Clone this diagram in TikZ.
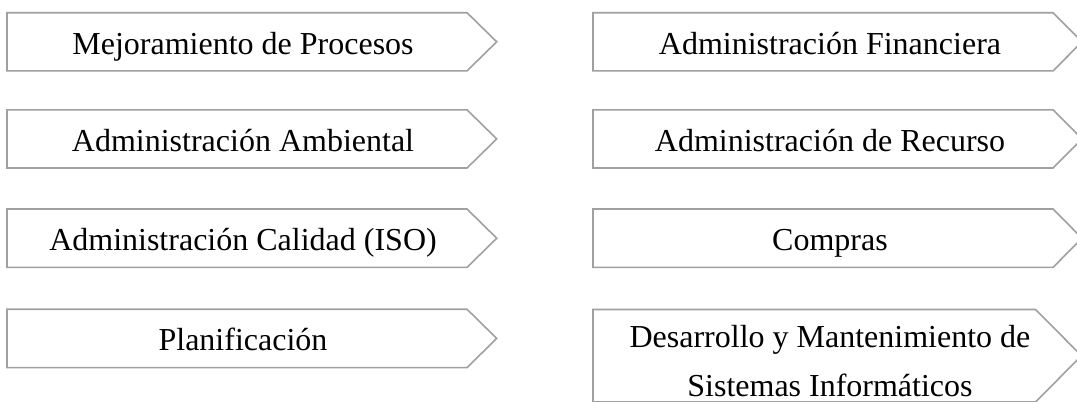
\documentclass[tikz,border=0pt]{standalone}
\usepackage{fontspec}
\setmainfont{Liberation Serif}
\definecolor{chevgray}{HTML}{A0A0A0}
\tikzset{
  chev/.style={draw=chevgray, line width=1.2pt, line join=miter},
  lbl/.style={anchor=base, inner sep=0pt, font=\fontsize{24}{36.75}\selectfont, text=black},
}
\begin{document}
\begin{tikzpicture}[x=0.75pt,y=-0.75pt]
\useasboundingbox (0,0) rectangle (1077,401);
\clip (0,0) rectangle (1077,401);
% left column shapes
\draw[chev] (7,12.7) -- (467,12.7) -- (496.7,41.8) -- (467,70.9) -- (7,70.9) -- cycle;
\draw[chev] (7,109.8) -- (467,109.8) -- (496.7,138.9) -- (467,168) -- (7,168) -- cycle;
\draw[chev] (7,209) -- (467,209) -- (496.7,238.2) -- (467,267.4) -- (7,267.4) -- cycle;
\draw[chev] (7,309.2) -- (467,309.2) -- (496.7,338.4) -- (467,367.6) -- (7,367.6) -- cycle;
% right column shapes
\draw[chev] (593,12.7) -- (1053,12.7) -- (1082,41.8) -- (1053,70.9) -- (593,70.9) -- cycle;
\draw[chev] (593,109.8) -- (1053,109.8) -- (1082,138.9) -- (1053,168) -- (593,168) -- cycle;
\draw[chev] (593,209) -- (1053,209) -- (1082,238.2) -- (1053,267.4) -- (593,267.4) -- cycle;
\draw[chev] (593,309.5) -- (1035.5,309.5) -- (1081.5,355.7) -- (1035.5,402) -- (593,402) -- cycle;
% labels
\node[lbl] (l1) at (243,54.3) {Mejoramiento de Procesos};
\node[lbl] (l2) at (243,151.4) {Administración Ambiental};
\node[lbl] (l3) at (243,250.6) {Administración Calidad (ISO)};
\node[lbl] (l4) at (243,350.8) {Planificación};
\node[lbl] (r1) at (830,54.3) {Administración Financiera};
\node[lbl] (r2) at (830,151.4) {Administración de Recurso};
\node[lbl] (r3) at (830,250.6) {Compras};
\node[lbl] (r4) at (830,347.7) {\raisebox{0pt}[\height][38pt]{\begin{tabular}[t]{@{}c@{}}Desarrollo y Mantenimiento de\\Sistemas Informáticos\end{tabular}}};
\end{tikzpicture}
\end{document}
